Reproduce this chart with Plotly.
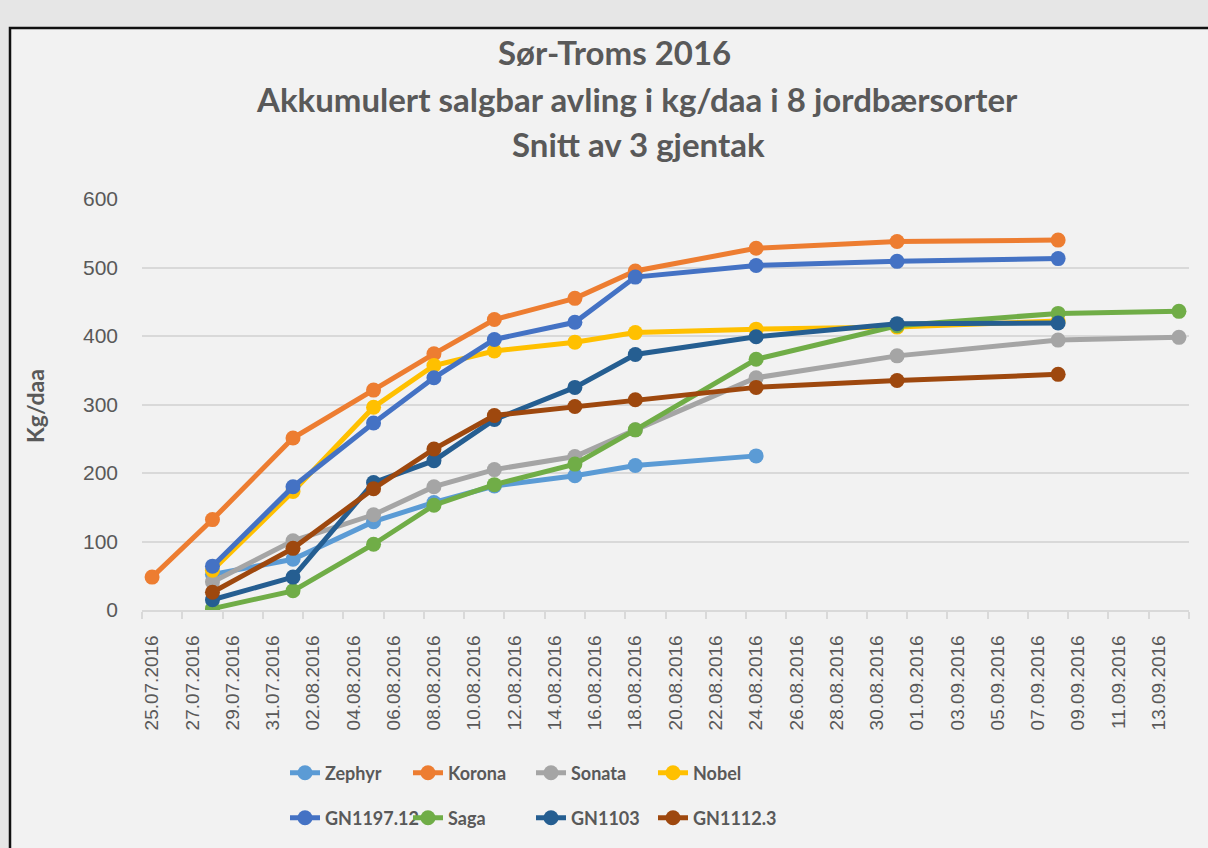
import plotly.graph_objects as go

# ---- data ----
dates_korona = ["2016-07-25", "2016-07-28", "2016-08-01", "2016-08-05", "2016-08-08", "2016-08-11",
                "2016-08-15", "2016-08-18", "2016-08-24", "2016-08-31", "2016-09-08"]
dates_short = ["2016-07-28", "2016-08-01", "2016-08-05", "2016-08-08", "2016-08-11",
               "2016-08-15", "2016-08-18", "2016-08-24"]
dates_mid = ["2016-07-28", "2016-08-01", "2016-08-05", "2016-08-08", "2016-08-11",
             "2016-08-15", "2016-08-18", "2016-08-24", "2016-08-31", "2016-09-08"]
dates_long = ["2016-07-28", "2016-08-01", "2016-08-05", "2016-08-08", "2016-08-11",
              "2016-08-15", "2016-08-18", "2016-08-24", "2016-08-31", "2016-09-08", "2016-09-14"]

zephyr = [52, 74, 129, 157, 181, 196, 211, 225]
korona = [48, 132, 251, 321, 374, 424, 455, 495, 528, 538, 540]
sonata = [41, 101, 139, 180, 205, 224, 263, 339, 371, 394, 398]
nobel = [58, 173, 296, 357, 378, 391, 405, 410, 413, 422]
gn1197 = [64, 180, 273, 339, 395, 420, 486, 503, 509, 513]
saga = [2, 28, 96, 153, 183, 213, 263, 366, 415, 433, 436]
gn1103 = [15, 48, 186, 218, 278, 325, 373, 399, 418, 419]
gn1112 = [26, 90, 177, 235, 284, 297, 307, 325, 335, 344]

series_names = ["Zephyr", "Korona", "Sonata", "Nobel", "GN1197.12", "Saga", "GN1103", "GN1112.3"]
series_dates = [dates_short, dates_korona, dates_long, dates_mid, dates_mid, dates_long, dates_mid, dates_mid]
series_values = [zephyr, korona, sonata, nobel, gn1197, saga, gn1103, gn1112]
series_colors = ["#5B9BD5", "#ED7D31", "#A5A5A5", "#FFC000", "#4472C4", "#70AD47", "#255E91", "#9E480E"]

tick_dates = ["2016-07-25", "2016-07-27", "2016-07-29", "2016-07-31", "2016-08-02", "2016-08-04",
              "2016-08-06", "2016-08-08", "2016-08-10", "2016-08-12", "2016-08-14", "2016-08-16",
              "2016-08-18", "2016-08-20", "2016-08-22", "2016-08-24", "2016-08-26", "2016-08-28",
              "2016-08-30", "2016-09-01", "2016-09-03", "2016-09-05", "2016-09-07", "2016-09-09",
              "2016-09-11", "2016-09-13"]
tick_text = [d[8:10] + "." + d[5:7] + "." + d[0:4] for d in tick_dates]

title_lines = ["Sør-Troms 2016", "Akkumulert salgbar avling i kg/daa i 8 jordbærsorter", "Snitt av 3 gjentak"]

TXT = "#595959"
W, H = 1208, 848
L, R, T, B = 142, 19, 199, 238
pw, ph = W - L - R, H - T - B


def px(x):
    return (x - L) / pw


def py(y):
    return (H - B - y) / ph


legend_cols = [285, 408, 531, 653]
legend_rows = [773, 818]

fig = go.Figure()
layout_legends = {}
for i, (name, d, v, c) in enumerate(zip(series_names, series_dates, series_values, series_colors)):
    key = "legend" if i == 0 else f"legend{i + 1}"
    fig.add_trace(go.Scatter(
        x=d, y=v, name=name, mode="lines+markers",
        line=dict(color=c, width=5),
        marker=dict(color=c, size=15),
        legend=key,
    ))
    layout_legends[key] = dict(
        x=px(legend_cols[i % 4]), y=py(legend_rows[i // 4]),
        xanchor="left", yanchor="middle", orientation="h",
        bgcolor="rgba(0,0,0,0)",
        font=dict(family="Lato", size=18, color=TXT, weight="bold"),
        itemclick=False, itemdoubleclick=False,
    )

annotations = []
for txt, yy, xx in zip(title_lines, [52, 99, 144], [614, 637, 638]):
    annotations.append(dict(
        text=txt, xref="paper", yref="paper", x=px(xx), y=py(yy),
        xanchor="center", yanchor="middle", showarrow=False,
        font=dict(family="Lato", size=33, color=TXT, weight="bold"),
    ))
annotations.append(dict(
    text="Kg/daa", xref="paper", yref="paper", x=px(35), y=py(406),
    xanchor="center", yanchor="middle", showarrow=False, textangle=-90,
    font=dict(family="Lato", size=23, color=TXT, weight="bold"),
))

fig.update_layout(
    width=W, height=H,
    template="none",
    paper_bgcolor="#e6e6e6",
    plot_bgcolor="#f2f2f2",
    margin=dict(l=L, r=R, t=T, b=B, autoexpand=False),
    showlegend=True,
    annotations=annotations,
    shapes=[dict(
        type="rect", xref="paper", yref="paper", layer="below",
        x0=px(10), x1=px(1230), y0=py(870), y1=py(28),
        fillcolor="#f2f2f2", line=dict(color="#111111", width=2.5),
    )],
    xaxis=dict(
        type="date",
        range=["2016-07-24 12:00", "2016-09-14 12:00"],
        tickmode="array", tickvals=tick_dates, ticktext=tick_text,
        tickangle=-90, ticks="", ticklabelstandoff=16,
        tickfont=dict(family="Liberation Sans", size=19, color=TXT),
        showgrid=False, zeroline=False,
        showline=True, linecolor="#d9d9d9", linewidth=1.5,
        minor=dict(tick0="2016-07-24 12:00", dtick=2 * 86400000, ticks="outside",
                   ticklen=7, tickcolor="#d9d9d9", tickwidth=1.5, showgrid=False),
        automargin=False,
    ),
    yaxis=dict(
        range=[0, 600], tickvals=[0, 100, 200, 300, 400, 500, 600],
        ticks="", ticklabelstandoff=23,
        tickfont=dict(family="Liberation Sans", size=21, color=TXT),
        showgrid=True, gridcolor="#d9d9d9", gridwidth=1.5,
        zeroline=False, showline=False,
        automargin=False,
    ),
    **layout_legends,
)

fig.write_html(
    "out.html",
    config={"displayModeBar": False},
    post_script="document.body.style.margin='0px';document.body.style.overflow='hidden';",
)
